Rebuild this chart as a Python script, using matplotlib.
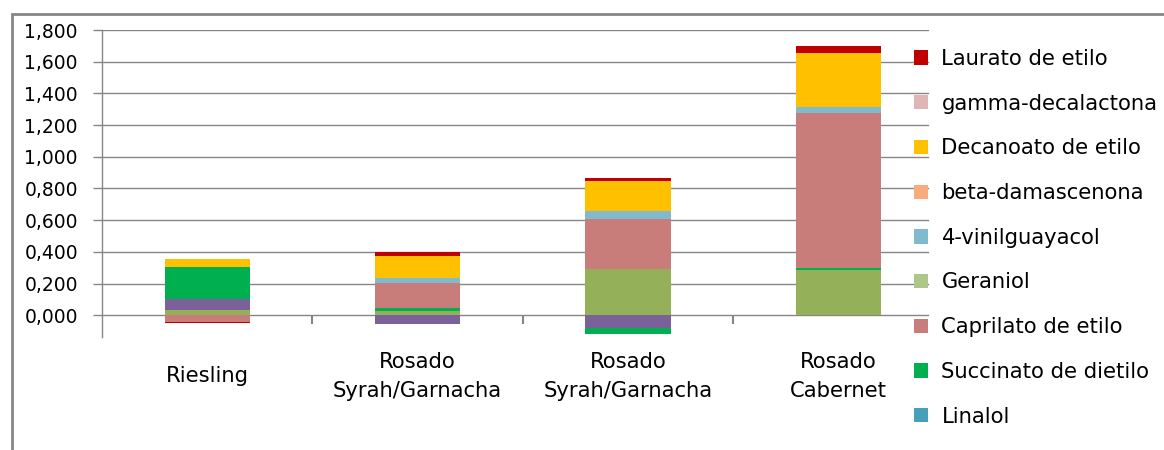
import numpy as np
import matplotlib.pyplot as plt
from matplotlib.patches import Patch, Rectangle
from matplotlib.ticker import FuncFormatter

categories = ["Riesling", "Rosado\nSyrah/Garnacha", "Rosado\nSyrah/Garnacha", "Rosado\nCabernet"]

# series in stacking order, bottom to top
# (the first two are below the cut-off part of the legend, names unknown)
serie_olive = [0.033, 0.027, 0.290, 0.286]
serie_morada = [0.067, -0.055, -0.080, 0.0]
linalol = [0.003, 0.0, 0.0, 0.0]
succinato = [0.199, 0.019, -0.038, 0.013]
caprilato = [-0.040, 0.156, 0.315, 0.978]
geraniol = [0.0, 0.0, 0.0, 0.0]
vinilguayacol = [0.0, 0.034, 0.053, 0.038]
damascenona = [0.0, 0.0, 0.0, 0.0]
decanoato = [0.055, 0.139, 0.189, 0.341]
decalactona = [0.0, 0.0, 0.0, 0.0]
laurato = [-0.006, 0.025, 0.019, 0.044]

series = [serie_olive, serie_morada, linalol, succinato, caprilato, geraniol,
          vinilguayacol, damascenona, decanoato, decalactona, laurato]
names = [None, None, "Linalol", "Succinato de dietilo", "Caprilato de etilo", "Geraniol",
         "4-vinilguayacol", "beta-damascenona", "Decanoato de etilo", "gamma-decalactona",
         "Laurato de etilo"]
colors = ["#94B058", "#7B6199", "#46A0BA", "#00B050", "#C97D7B", "#ADC68A",
          "#7FBACF", "#F9AB7B", "#FFC000", "#E0B5B5", "#C00000"]

yticks = [0.0, 0.2, 0.4, 0.6, 0.8, 1.0, 1.2, 1.4, 1.6, 1.8]

W, H = 1164, 450
fig = plt.figure(figsize=(W / 100, H / 100), dpi=100)
ax = fig.add_axes([102 / W, (H - 337) / H, 841.5 / W, 307 / H])

grey = "#868686"
x = np.arange(len(categories))

# gridlines (the legend box covers the right end of the plot area)
for t in yticks:
    ax.axhline(t, xmin=0, xmax=(928 - 102) / 841.5, color=grey, lw=1.0, zorder=1)

pos = np.zeros(len(categories))
neg = np.zeros(len(categories))
for vals, c in zip(series, colors):
    v = np.array(vals)
    bottom = np.where(v >= 0, pos, neg)
    ax.bar(x, v, 0.405, bottom=bottom, color=c, zorder=3, linewidth=0)
    pos = pos + np.where(v >= 0, v, 0)
    neg = neg + np.where(v < 0, v, 0)

ax.set_xlim(-0.5, len(categories) - 0.5)
ax.set_ylim(-0.137, 1.8)

for s in ["top", "right"]:
    ax.spines[s].set_visible(False)
ax.spines["left"].set_color(grey)
ax.spines["left"].set_linewidth(1.0)
ax.spines["bottom"].set_position(("data", 0))
ax.spines["bottom"].set_visible(False)

ax.set_yticks(yticks)
ax.yaxis.set_major_formatter(FuncFormatter(lambda v, p: f"{v:.3f}".replace(".", ",")))
ax.tick_params(axis="y", direction="out", length=6.5, width=1.0, color=grey,
               pad=10.8, labelsize=13.5, labelcolor="black")

ax.set_xticks(x)
ax.set_xticklabels(categories, fontsize=15.2, linespacing=1.6)
ax.set_xticks(x[:-1] + 0.5, minor=True)
ax.tick_params(axis="x", which="major", length=0, pad=44)
ax.tick_params(axis="x", which="minor", direction="out", length=6.5, width=1.5, color=grey)
for lbl in ax.get_xticklabels():
    lbl.set_verticalalignment("center")

# legend (top part only, the rest is cut off by the picture)
handles = [Patch(facecolor=c, edgecolor="none", label=n)
           for n, c in zip(names, colors) if n is not None][::-1]
fig.legend(handles=handles, loc="upper left", bbox_to_anchor=(914 / W, 1 - 49 / H),
           frameon=False, fontsize=15.2, handlelength=0.66, handleheight=0.66,
           handletextpad=0.64, labelspacing=1.17, borderpad=0, borderaxespad=0)

# outer chart frame
fig.add_artist(Rectangle((11.5 / W, -0.1), 1.5, 1.1 - 14.5 / H, transform=fig.transFigure,
                         fill=False, edgecolor=grey, lw=2.0))

fig.savefig("out.png", dpi=100)
